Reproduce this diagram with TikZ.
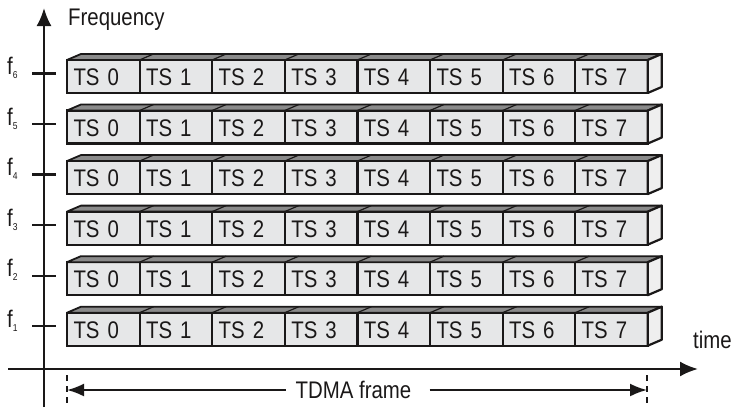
\documentclass[tikz,border=0pt]{standalone}
\usepackage{fontspec}
\setmainfont{Liberation Sans}[FakeStretch=0.85]
\usetikzlibrary{arrows.meta,positioning,calc}
\definecolor{slotgray}{HTML}{E6E7E8}
\definecolor{sidegray}{HTML}{EFEFEF}
\definecolor{topgray}{HTML}{8A8A8A}
\definecolor{ink}{HTML}{1A1818}
\tikzset{
  cell/.style={draw=ink, fill=slotgray, line width=2.2pt, outer sep=0pt, inner xsep=6.5pt, inner ysep=0pt, text width=59.6pt, align=left, minimum height=33pt, text height=18.4pt, text depth=0pt, font=\fontsize{24}{27}\selectfont, text=ink, anchor=north west},
  topface/.style={draw=ink, fill=topgray, line width=1.8pt, line join=round},
  sideface/.style={draw=ink, fill=sidegray, line width=2.2pt, line join=round},
  divider/.style={draw=ink, line width=1.2pt},
  lbl/.style={font=\fontsize{24}{27}\selectfont, inner sep=0pt, text=ink},
  axis/.style={draw=ink, line width=2.2pt},
  axisarrow/.style={-{Latex[length=18pt,width=15pt]}, line width=2.2pt, draw=ink},
  dimarrow/.style={-{Latex[length=17pt,width=13pt]}, line width=2pt, draw=ink},
  dashline/.style={draw=ink, line width=2pt, dash pattern=on 6pt off 5pt}
}
\begin{document}
\begin{tikzpicture}[x=1pt, y=-1pt]
\useasboundingbox (0,0) rectangle (733,407);
% time slots, one row per carrier
\foreach \r in {1,...,6} {
  \pgfmathsetmacro{\ytop}{312.7-(\r-1)*50.55}
  \pgfmathsetmacro{\ty}{\ytop+13.5}
  \node[cell] (c\r0) at (67,\ytop) {TS 0};
  \foreach \i [remember=\i as \j (initially 0)] in {1,...,7}
    \node[cell, right=0pt of c\r\j] (c\r\i) {TS \i};
  \draw[topface] (c\r0.north west) -- ++(14,-6) -- ($(c\r7.north east)+(14,-6)$) -- (c\r7.north east) -- cycle;
  \foreach \i in {1,...,7}
    \draw[divider] (c\r\i.north west) -- ++(14,-6);
  \draw[sideface] (c\r7.north east) -- ++(14,-6) -- ++(0,33) -- (c\r7.south east) -- cycle;
  \draw[axis] (32,\ty) -- (56,\ty);
  \node[lbl, anchor=base west] (f\r) at (7,\ty+1) {f\raisebox{-4pt}{\fontsize{10}{10}\selectfont\r}};
}
% axes
\coordinate (yfoot) at (44,407);
\coordinate (ytip) at (44,8);
\coordinate (xfoot) at (8,369);
\coordinate (xtip) at (698,369);
\draw[axisarrow] (yfoot) -- (ytip);
\draw[axisarrow] (xfoot) -- (xtip);
\node[lbl, anchor=base west] (freq) at (68,25.7) {Frequency};
\node[lbl, anchor=base west] (time) at (693,348) {time};
% frame length
\coordinate (frL) at (67,390);
\coordinate (frR) at (647,390);
\draw[dashline] (frL) ++(0,-15) -- ++(0,33);
\draw[dashline] (frR) ++(0,-15) -- ++(0,33);
\node[lbl, inner xsep=10pt] (tdma) at (353.5,390) {TDMA frame};
\draw[dimarrow] (tdma.west) -- (frL);
\draw[dimarrow] ([xshift=8pt]tdma.east) -- (frR);
\end{tikzpicture}
\end{document}
